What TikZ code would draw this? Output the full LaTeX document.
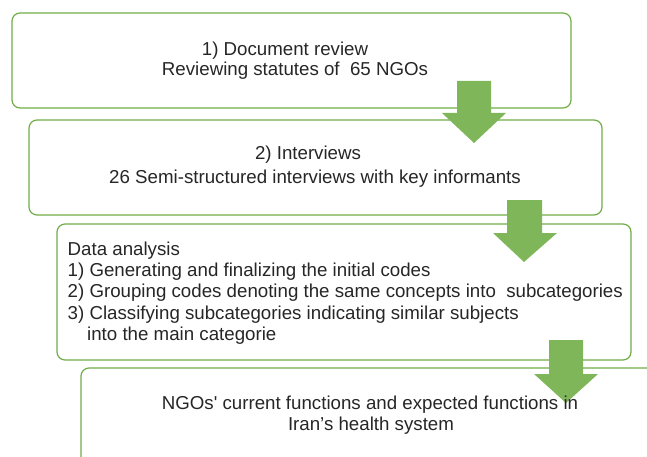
\documentclass[tikz,border=0pt]{standalone}
\usepackage{fontspec}
\setmainfont{Liberation Sans}
\definecolor{boxgreen}{RGB}{112,173,71}
\definecolor{arrowgreen}{RGB}{127,182,90}
\definecolor{txt}{RGB}{38,38,38}
\begin{document}
\begin{tikzpicture}[x=1pt,y=-1pt,
  box/.style={draw=boxgreen, line width=1.2pt, rounded corners=8pt},
  lbl/.style={text=txt, font=\fontsize{18.7}{22}\selectfont, inner sep=0pt, anchor=base},
  lblw/.style={lbl, anchor=base west},
  blockarrow/.style={fill=arrowgreen, draw=none}]
\useasboundingbox (0,0) rectangle (647,457);
% boxes
\draw[box] (12,13) rectangle (571,108);
\draw[box] (29,120) rectangle (602,215);
\draw[box] (57,224) rectangle (631,360);
\begin{scope}
  \clip (0,0) rectangle (647,457);
  \draw[box] (81,368) rectangle (720,520);
\end{scope}
% block arrows
\fill[blockarrow] (457,81) -- (491,81) -- (491,113) -- (506,113) -- (474,143) -- (442,113) -- (457,113) -- cycle;
\fill[blockarrow] (507,200) -- (542,200) -- (542,233) -- (557,233) -- (524,262) -- (493,233) -- (507,233) -- cycle;
\fill[blockarrow] (549,340) -- (583,340) -- (583,374) -- (598,374) -- (566,403) -- (534,374) -- (549,374) -- cycle;
% texts
\node[lbl] (a1) at (285,55.5) {1) Document review};
\node[lbl] (a2) at (295,76) {Reviewing statutes of \ 65 NGOs};
\node[lbl] (b1) at (308,160) {2) Interviews};
\node[lbl] (b2) at (315,183) {26 Semi-structured interviews with key informants};
\node[lblw] (c1) at (67.5,255) {Data analysis};
\node[lblw] (c2) at (67.5,276.3) {1) Generating and finalizing the initial codes};
\node[lblw] (c3) at (67.5,297.6) {2) Grouping codes denoting the same concepts into \ subcategories};
\node[lblw] (c4) at (67.5,319) {3) Classifying subcategories indicating similar subjects};
\node[lblw] (c5) at (87,340) {into the main categorie};
\node[lbl] (d1) at (370,409) {NGOs\textquotesingle{} current functions and expected functions in};
\node[lbl] (d2) at (371,430) {Iran’s health system};
\end{tikzpicture}
\end{document}
